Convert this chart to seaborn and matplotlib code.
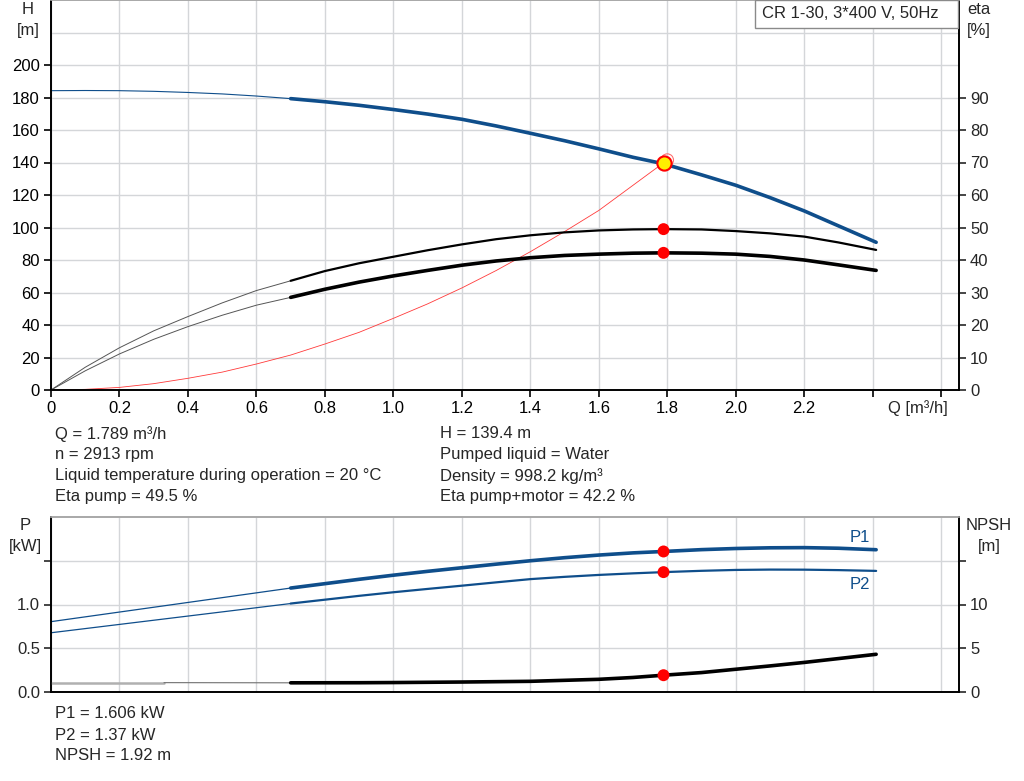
import numpy as np
import matplotlib
matplotlib.use("Agg")
import matplotlib.pyplot as plt
import seaborn as sns
from matplotlib.patches import Rectangle


# ----------------------- Data
q = [0, 0.1, 0.2, 0.3, 0.4, 0.5, 0.6, 0.7, 0.8, 0.9, 1.0, 1.1, 1.2, 1.3,
     1.4, 1.5, 1.6, 1.7, 1.789, 1.9, 2.0, 2.1, 2.2, 2.3, 2.41]
head = [184.2, 184.3, 184.2, 183.8, 183.1, 182.2, 180.9, 179.3, 177.4, 175.2,
        172.6, 169.8, 166.6, 162.5, 158.0, 153.4, 148.4, 143.2, 139.2, 132.4,
        126.0, 118.4, 110.2, 101.0, 90.9]
eta_pump = [0, 7.0, 13.0, 18.2, 22.6, 26.8, 30.6, 33.6, 36.6, 39.0, 41.0,
            43.0, 44.8, 46.4, 47.6, 48.5, 49.1, 49.4, 49.5, 49.4, 48.9, 48.2,
            47.2, 45.4, 43.1]
eta_total = [0, 5.9, 11.1, 15.6, 19.5, 23.0, 26.1, 28.5, 31.0, 33.2, 35.1,
             36.8, 38.4, 39.7, 40.7, 41.4, 41.8, 42.1, 42.2, 42.1, 41.8, 41.1,
             40.0, 38.5, 36.8]

q_sys = [0, 0.1, 0.2, 0.3, 0.4, 0.5, 0.6, 0.7, 0.8, 0.9, 1.0, 1.1, 1.2, 1.3,
         1.4, 1.5, 1.6, 1.7, 1.8]
h_sys = [0, 0.4, 1.6, 3.9, 7.2, 11.0, 16.0, 21.5, 28.3, 35.5, 44.1, 53.0,
         62.8, 73.5, 85.1, 97.5, 110.5, 126.0, 141.5]

q_p = [0, 0.35, 0.7, 0.8, 0.9, 1.0, 1.1, 1.2, 1.3, 1.4, 1.5, 1.6, 1.7,
       1.789, 1.9, 2.0, 2.1, 2.2, 2.3, 2.41]
p1 = [0.804, 0.996, 1.188, 1.238, 1.288, 1.335, 1.379, 1.420, 1.461, 1.500,
      1.535, 1.565, 1.590, 1.606, 1.627, 1.640, 1.648, 1.650, 1.643, 1.626]
p2 = [0.677, 0.844, 1.011, 1.055, 1.099, 1.140, 1.178, 1.215, 1.253, 1.290,
      1.316, 1.338, 1.356, 1.370, 1.385, 1.395, 1.399, 1.398, 1.393, 1.384]

q_n = [0, 0.33, 0.7, 0.9, 1.0, 1.2, 1.4, 1.6, 1.7, 1.789, 1.9, 2.0, 2.1,
       2.2, 2.3, 2.41]
npsh = [1.07, 1.07, 1.05, 1.06, 1.08, 1.14, 1.22, 1.45, 1.66, 1.92, 2.22,
        2.60, 2.98, 3.38, 3.82, 4.31]

# duty point
q_op = 1.789
h_op = 139.4
eta_p_op = 49.5
eta_t_op = 42.2
p1_op = 1.606
p2_op = 1.37
npsh_op = 1.92

info_left = ["Q = 1.789 m³/h", "n = 2913 rpm",
             "Liquid temperature during operation = 20 °C", "Eta pump = 49.5 %"]
info_right = ["H = 139.4 m", "Pumped liquid = Water",
              "Density = 998.2 kg/m³", "Eta pump+motor = 42.2 %"]
info_power = ["P1 = 1.606 kW", "P2 = 1.37 kW", "NPSH = 1.92 m"]

q_ticks = [0, 0.2, 0.4, 0.6, 0.8, 1.0, 1.2, 1.4, 1.6, 1.8, 2.0, 2.2, 2.4, 2.6]
q_labels = ["0", "0.2", "0.4", "0.6", "0.8", "1.0", "1.2", "1.4", "1.6",
            "1.8", "2.0", "2.2", "", ""]


# ----------------------- Style
sns.set_theme(style="white")
plt.rcParams["font.family"] = ["Liberation Sans", "DejaVu Sans"]
plt.rcParams["font.size"] = 12

BLUE = "#0f4e8b"
GRID = "#d4d6d9"
FS = 12


def seg(ax, x, y, lo, hi, **kw):
    x = np.asarray(x, dtype=float)
    y = np.asarray(y, dtype=float)
    m = (x >= lo - 1e-9) & (x <= hi + 1e-9)
    sns.lineplot(x=x[m], y=y[m], ax=ax, sort=False, estimator=None,
                 legend=False, **kw)


def style_axis(ax):
    for s in ["left", "bottom", "right"]:
        ax.spines[s].set_color("black")
        ax.spines[s].set_linewidth(1.2)
    ax.spines["top"].set_color("#a8a8a8")
    ax.spines["top"].set_linewidth(1.2)


def unit_label(x_px, y1_px, y2_px, name, unit):
    fig.text(x_px / 1024, 1 - y1_px / 781, name, ha="center", va="center",
             fontsize=FS)
    fig.text(x_px / 1024, 1 - y2_px / 781, unit, ha="center", va="center",
             fontsize=FS)


fig = plt.figure(figsize=(10.24, 7.81), dpi=100)

# ----------------------- Upper panel: H and eta
ax = fig.add_axes([51 / 1024, 1 - 390 / 781, 908 / 1024, 390 / 781])
ax_eta = ax.twinx()

ax.set_xlim(0, 2.652)
ax.set_ylim(0, 240)
ax_eta.set_ylim(0, 120)

ax.set_xticks(q_ticks)
ax.set_xticklabels(q_labels)
ax.set_yticks(list(range(0, 201, 20)))
ax_eta.set_yticks(list(range(0, 91, 10)))

ax.grid(True, color=GRID, linewidth=1.0)
ax.axhline(220, color=GRID, linewidth=1.0, zorder=0)
ax.set_axisbelow(True)
ax.tick_params(axis="both", direction="out", length=5, width=1.2,
               labelsize=FS, pad=3, colors="black")
ax.tick_params(axis="y", left=True)
ax.tick_params(axis="x", bottom=True)
ax_eta.tick_params(axis="y", direction="out", length=5, width=1.2,
                   labelsize=FS, pad=3, right=True)
style_axis(ax)
style_axis(ax_eta)
ax.set_xlabel("")
ax.set_ylabel("")
ax_eta.set_ylabel("")

# head curve
seg(ax, q, head, 0, 0.7, color=BLUE, linewidth=0.8)
seg(ax, q, head, 0.7, 2.41, color=BLUE, linewidth=2.6)
# system curve
seg(ax, q_sys, h_sys, 0, 1.8, color="#ff3a3a", linewidth=0.6)
# efficiency curves
seg(ax_eta, q, eta_pump, 0, 0.7, color="#555555", linewidth=0.7)
seg(ax_eta, q, eta_pump, 0.7, 2.41, color="black", linewidth=1.6)
seg(ax_eta, q, eta_total, 0, 0.7, color="#555555", linewidth=0.7)
seg(ax_eta, q, eta_total, 0.7, 2.41, color="black", linewidth=2.6)

sns.scatterplot(x=[q_sys[-1]], y=[h_sys[-1]], ax=ax, s=80, facecolor="none",
                edgecolor="#ff7070", linewidth=0.8, zorder=4)
sns.scatterplot(x=[q_op], y=[h_op], ax=ax, s=105, color="#ffee00",
                edgecolor="#ff0000", linewidth=1.5, zorder=5)
sns.scatterplot(x=[q_op, q_op], y=[eta_p_op, eta_t_op], ax=ax_eta, s=74,
                color="#ff0000", edgecolor="none", zorder=5)

fig.text(918 / 1024, 1 - 408 / 781, "Q [m³/h]", ha="center", va="center",
         fontsize=FS)

# ----------------------- Lower panel: P and NPSH
ax2 = fig.add_axes([51 / 1024, 1 - 692 / 781, 908 / 1024, 175 / 781])
ax_n = ax2.twinx()

ax2.set_xlim(0, 2.652)
ax2.set_ylim(0, 2.0)
ax_n.set_ylim(0, 20)

ax2.set_xticks(q_ticks)
ax2.set_xticklabels([])
ax2.set_yticks([0, 0.5, 1.0, 1.5])
ax2.set_yticklabels(["0.0", "0.5", "1.0", ""])
ax_n.set_yticks([0, 5, 10, 15])
ax_n.set_yticklabels(["0", "5", "10", ""])

ax2.grid(True, color=GRID, linewidth=1.0)
ax2.set_axisbelow(True)
ax2.tick_params(axis="x", length=0)
ax2.tick_params(axis="y", direction="out", length=5, width=1.2,
                labelsize=FS, pad=3, left=True)
ax_n.tick_params(axis="y", direction="out", length=5, width=1.2,
                 labelsize=FS, pad=3, right=True)
style_axis(ax2)
style_axis(ax_n)
ax2.set_xlabel("")
ax2.set_ylabel("")
ax_n.set_ylabel("")

seg(ax2, q_p, p1, 0, 0.7, color=BLUE, linewidth=0.9)
seg(ax2, q_p, p1, 0.7, 2.41, color=BLUE, linewidth=2.6)
seg(ax2, q_p, p2, 0, 0.7, color=BLUE, linewidth=0.9)
seg(ax2, q_p, p2, 0.7, 2.41, color=BLUE, linewidth=1.6)
seg(ax_n, q_n, npsh, 0, 0.33, color="#b0b0b0", linewidth=1.8)
seg(ax_n, q_n, npsh, 0.33, 0.7, color="#707070", linewidth=0.8)
seg(ax_n, q_n, npsh, 0.7, 2.41, color="black", linewidth=2.6)

sns.scatterplot(x=[q_op, q_op], y=[p1_op, p2_op], ax=ax2, s=74,
                color="#ff0000", edgecolor="none", zorder=5)
sns.scatterplot(x=[q_op], y=[npsh_op], ax=ax_n, s=74,
                color="#ff0000", edgecolor="none", zorder=5)

ax2.text(2.363, 1.765, "P1", color=BLUE, ha="center", va="center",
         fontsize=FS)
ax2.text(2.363, 1.234, "P2", color=BLUE, ha="center", va="center",
         fontsize=FS)

# ----------------------- Axis titles and text blocks
unit_label(28, 10, 30, "H", "[m]")
unit_label(979, 10, 30, "eta", "[%]")
unit_label(25, 526, 546, "P", "[kW]")
unit_label(989, 526, 546, "NPSH", "[m]")

fig.patches.append(Rectangle((755 / 1024, 1 - 28 / 781), 203 / 1024,
                             28 / 781, transform=fig.transFigure,
                             facecolor="white", edgecolor="#8a8a8a",
                             linewidth=1.0, zorder=10))
fig.text(762 / 1024, 1 - 14 / 781, "CR 1-30, 3*400 V, 50Hz", ha="left",
         va="center", fontsize=FS, zorder=11)

for i, t in enumerate(info_left):
    fig.text(55 / 1024, 1 - (434 + 21 * i) / 781, t, ha="left",
             va="center", fontsize=FS)
for i, t in enumerate(info_right):
    fig.text(440 / 1024, 1 - (434 + 21 * i) / 781, t, ha="left",
             va="center", fontsize=FS)
for i, t in enumerate(info_power):
    fig.text(55 / 1024, 1 - (714 + 21 * i) / 781, t, ha="left",
             va="center", fontsize=FS)

fig.savefig("out.png", dpi=100)
